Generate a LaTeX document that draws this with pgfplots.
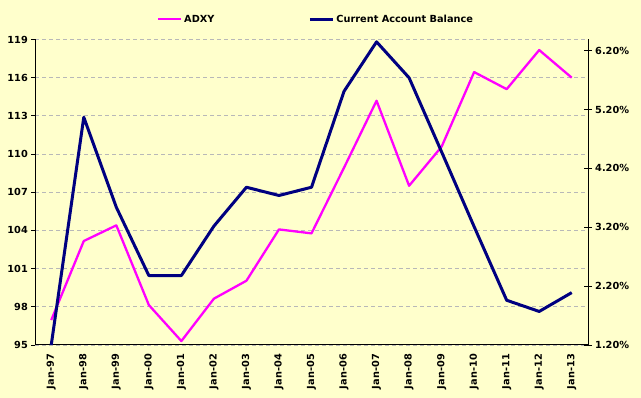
\documentclass[border=0pt]{standalone}
\usepackage{pgfplots}
\pgfplotsset{compat=1.18}
\usepackage{fontspec}
\setmainfont{DejaVu Sans}
\definecolor{bg}{HTML}{FFFFCC}
\definecolor{adxy}{HTML}{FF00FF}
\definecolor{cab}{HTML}{000080}
\definecolor{gridc}{HTML}{B8B8B8}
\pgfplotstableread{
x adxy cab
0 96.96 1.20
1 103.17 5.07
2 104.40 3.54
3 98.14 2.38
4 95.31 2.38
5 98.64 3.22
6 100.05 3.88
7 104.08 3.74
8 103.77 3.88
9 108.93 5.51
10 114.19 6.35
11 107.51 5.74
12 110.58 4.48
13 116.44 3.21
14 115.10 1.96
15 118.17 1.77
16 116.00 2.09
}\data
\newcommand{\tf}{\bfseries\fontsize{9.8}{11}\selectfont}
\begin{document}
\begin{tikzpicture}
\path[use as bounding box, fill=bg] (0,0) rectangle (641bp,398bp);
\begin{axis}[
  at={(35bp,53bp)}, anchor=south west, scale only axis,
  width=553bp, height=305.5bp,
  xmin=-0.5, xmax=16.5, ymin=95, ymax=119,
  axis x line*=bottom, axis y line*=left,
  axis line style={black, line width=1bp},
  xtick={0,...,16},
  xticklabels={Jan-97,Jan-98,Jan-99,Jan-00,Jan-01,Jan-02,Jan-03,Jan-04,Jan-05,Jan-06,Jan-07,Jan-08,Jan-09,Jan-10,Jan-11,Jan-12,Jan-13},
  x tick style={draw=none},
  minor xtick={-0.5,0.5,...,16.5},
  minor x tick style={black, line width=0.8bp},
  minor tick length=4bp,
  major tick length=4bp,
  tick align=outside,
  ytick={95,98,...,119},
  y tick style={black, line width=0.8bp},
  ymajorgrids,
  major grid style={gridc, line width=0.8bp, dash pattern=on 4bp off 3bp},
  /pgf/number format/assume math mode=true,
  tick label style={font=\tf},
  xticklabel style={rotate=90, anchor=east, inner sep=0bp, xshift=-5bp},
  yticklabel style={inner sep=3bp},
  legend columns=2,
  legend style={at={(0.508,1.066)}, anchor=center, draw=none, fill=none,
    font=\tf, inner sep=0pt,
    /tikz/every even column/.append style={column sep=92bp}},
  legend image code/.code={\draw[#1] (0bp,0bp) -- (23bp,0bp);},
]
\addplot[adxy, line width=2.3bp, line join=round] table[x=x, y=adxy] {\data};
\addlegendentry{ADXY}
\addlegendimage{cab, line width=3bp}
\addlegendentry{Current Account Balance}
\end{axis}
\begin{axis}[
  at={(35bp,53bp)}, anchor=south west, scale only axis,
  width=553bp, height=305.5bp,
  xmin=-0.5, xmax=16.5, ymin=1.2, ymax=6.39,
  axis x line=none, axis y line*=right,
  axis line style={black, line width=1bp},
  ytick={1.2,2.2,3.2,4.2,5.2,6.2},
  y tick style={black, line width=0.8bp},
  tick align=center, major tick length=8bp,
  /pgf/number format/assume math mode=true,
  yticklabel={\pgfmathprintnumber[fixed,fixed zerofill,precision=2]{\tick}\%},
  tick label style={font=\tf},
  yticklabel style={inner sep=3bp},
]
\addplot[cab, line width=3bp, line join=round] table[x=x, y=cab] {\data};
\end{axis}
\end{tikzpicture}
\end{document}
